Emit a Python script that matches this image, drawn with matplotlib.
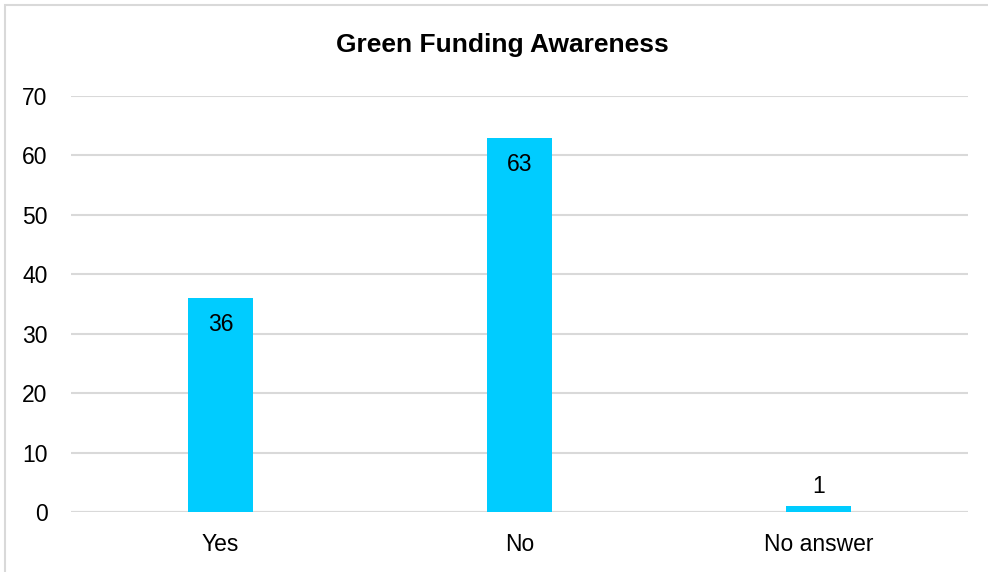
import matplotlib
matplotlib.use("Agg")
import matplotlib.pyplot as plt
from matplotlib.patches import Rectangle

categories = ["Yes", "No", "No answer"]
counts = [36, 63, 1]
y_ticks = [0, 10, 20, 30, 40, 50, 60, 70]

plt.rcParams["font.family"] = ["Liberation Sans", "DejaVu Sans"]

fig = plt.figure(figsize=(9.88, 5.72), dpi=100)
fig.patch.set_facecolor("white")

# light frame around the chart area
fig.add_artist(Rectangle((5 / 988, -0.01), 1.0, 1 - 5 / 572 + 0.01,
                         transform=fig.transFigure, fill=False,
                         edgecolor="#d9d9d9", linewidth=1.5))

ax = fig.add_axes([71 / 988, 60 / 572, 897 / 988, 416 / 572])
x = range(len(categories))
bars = ax.bar(x, counts, width=0.22, color="#00ccff", zorder=3)

ax.set_ylim(0, 70)
ax.set_xlim(-0.5, len(categories) - 0.5)
ax.set_yticks(y_ticks)
ax.set_xticks(list(x))
ax.set_xticklabels(categories)
ax.tick_params(axis="both", length=0, labelsize=16.5, colors="black")
ax.tick_params(axis="y", pad=17)
ax.tick_params(axis="x", pad=15)
ax.yaxis.grid(True, color="#d9d9d9", linewidth=1.5, zorder=0)
for s in ax.spines.values():
    s.set_visible(False)
ax.axhline(0, color="#d9d9d9", linewidth=1.5, zorder=2)

for b, v in zip(bars, counts):
    cx = b.get_x() + b.get_width() / 2
    if v > 5:
        ax.annotate(str(v), (cx, v), xytext=(0, -11), textcoords="offset points",
                    ha="center", va="top", fontsize=16.5)
    else:
        ax.annotate(str(v), (cx, v), xytext=(0, 6), textcoords="offset points",
                    ha="center", va="bottom", fontsize=16.5)

fig.text(502 / 988, 1 - 45 / 572, "Green Funding Awareness", ha="center", va="center",
         fontsize=19, fontweight="bold")

fig.savefig("out.png", dpi=100)
